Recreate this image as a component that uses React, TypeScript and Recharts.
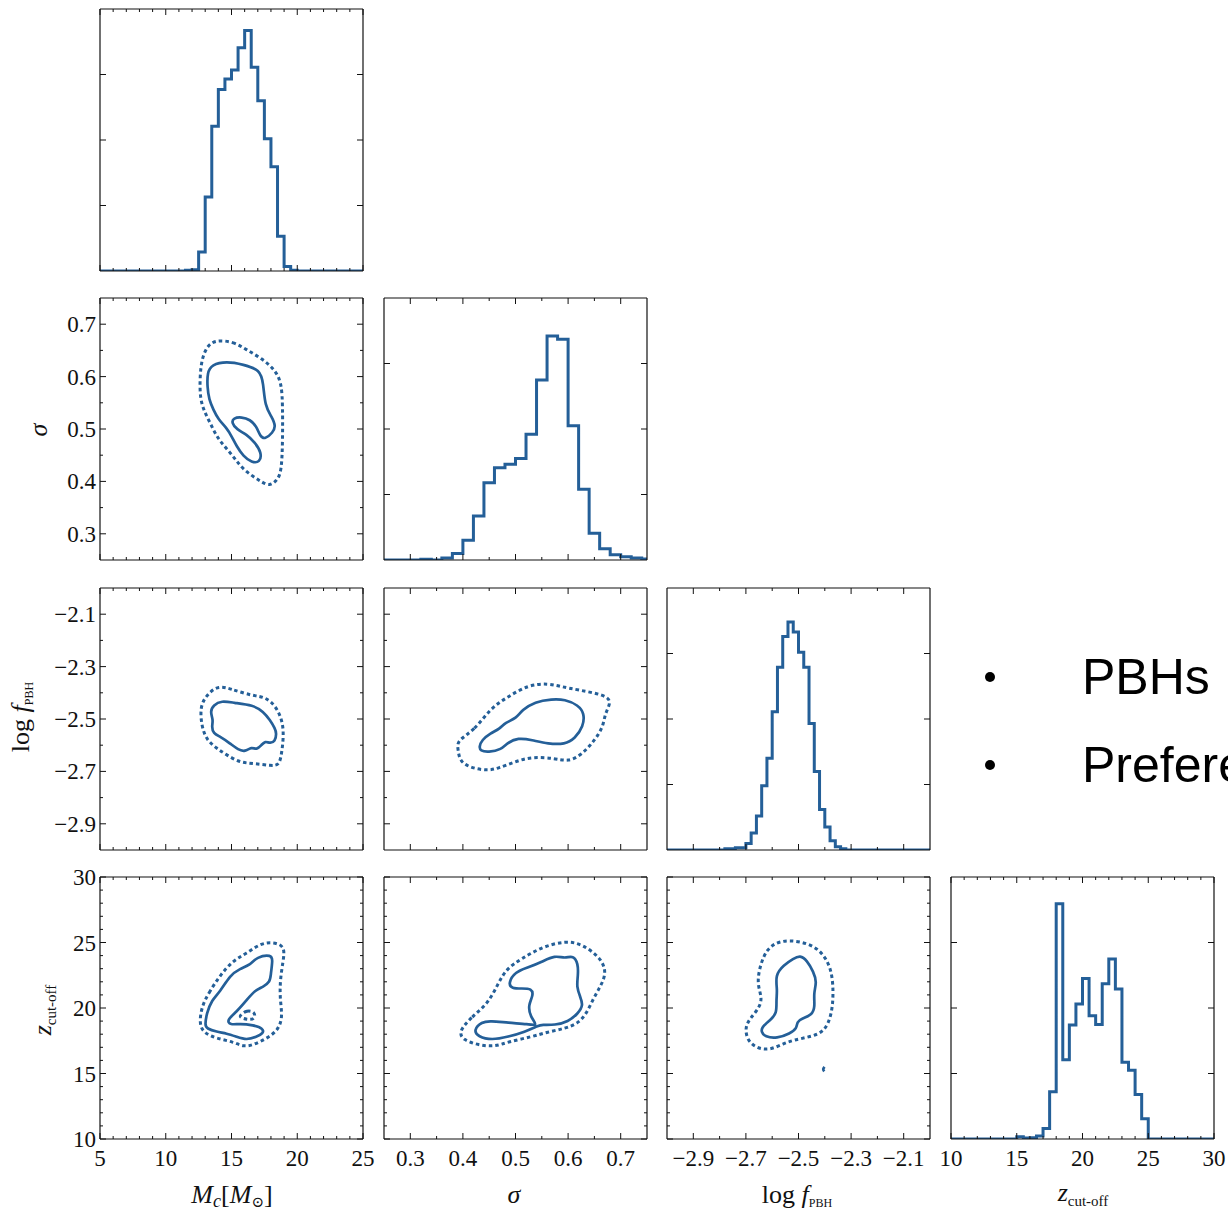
import React from "react";
import { ComposedChart, Line, XAxis, YAxis } from "recharts";

// colours / fonts
const BLUE = "#245f98";
const INK = "#111";
const SERIF = "'Liberation Serif', 'DejaVu Serif', serif";
const SANS = "'Liberation Sans', Arial, sans-serif";

// panel layout
const PANEL_W = 263;
const PANEL_H = 262;
const colLeft = [100, 384, 667, 951];
const rowTop = [9, 298, 588, 877];

// axis ranges and ticks
const mcDomain: [number, number] = [5, 25];
const mcMajor = [5, 10, 15, 20, 25];
const mcMinor = [6, 7, 8, 9, 11, 12, 13, 14, 16, 17, 18, 19, 21, 22, 23, 24];

const sigmaDomain: [number, number] = [0.25, 0.75];
const sigmaMajor = [0.3, 0.4, 0.5, 0.6, 0.7];
const sigmaMinor = [0.35, 0.45, 0.55, 0.65];

const logfDomain: [number, number] = [-3, -2];
const logfMajor = [-2.9, -2.7, -2.5, -2.3, -2.1];
const logfMinor = [-2.8, -2.6, -2.4, -2.2];

const zDomain: [number, number] = [10, 30];
const zMajor = [10, 15, 20, 25, 30];
const zMinor = [11, 12, 13, 14, 16, 17, 18, 19, 21, 22, 23, 24, 26, 27, 28, 29];

const histDomain: [number, number] = [0, 4];
const histMajor = [1, 2, 3];

// 1D histograms: bin edges (last = right end) and bin heights
const mcHistEdges = [5, 11.5, 12, 12.5, 13, 13.5, 14, 14.5, 15, 15.5, 16, 16.5, 17, 17.5, 18, 18.5, 19, 19.5, 20, 25];
const mcHistHeights = [0, 0.01, 0.02, 0.29, 1.13, 2.21, 2.77, 2.93, 3.07, 3.41, 3.67, 3.11, 2.6, 2.02, 1.59, 0.53, 0.07, 0.01, 0];

const sigmaHistEdges = [0.25, 0.32, 0.34, 0.36, 0.38, 0.4, 0.42, 0.44, 0.46, 0.48, 0.5, 0.52, 0.54, 0.56, 0.58, 0.6, 0.62, 0.64, 0.66, 0.68, 0.7, 0.72, 0.74, 0.75];
const sigmaHistHeights = [0, 0.01, 0, 0.03, 0.1, 0.3, 0.67, 1.18, 1.41, 1.46, 1.55, 1.92, 2.75, 3.42, 3.37, 2.05, 1.08, 0.41, 0.17, 0.08, 0.05, 0.03, 0.015];

const logfHistEdges = [-3, -2.78, -2.74, -2.7, -2.68, -2.66, -2.64, -2.62, -2.6, -2.58, -2.56, -2.54, -2.52, -2.5, -2.48, -2.46, -2.44, -2.42, -2.4, -2.38, -2.36, -2.34, -2.32, -2];
const logfHistHeights = [0, 0.02, 0.035, 0.1, 0.26, 0.52, 0.98, 1.4, 2.11, 2.79, 3.26, 3.48, 3.33, 3.02, 2.79, 1.93, 1.2, 0.62, 0.35, 0.14, 0.05, 0.02, 0];

const zHistEdges = [10, 15, 15.5, 16, 16.5, 17, 17.5, 18, 18.5, 19, 19.5, 20, 20.5, 21, 21.5, 22, 22.5, 23, 23.5, 24, 24.5, 25, 30];
const zHistHeights = [0, 0.035, 0.015, 0.02, 0.045, 0.16, 0.72, 3.59, 1.21, 1.74, 2.06, 2.45, 1.88, 1.75, 2.37, 2.75, 2.29, 1.17, 1.05, 0.68, 0.31, 0];

// 2D contours (solid = inner level, dotted = outer level)
const mcSigmaOuter = [[13.75, 0.67], [15.14, 0.667], [16.15, 0.651], [17.29, 0.635], [18.31, 0.613], [18.81, 0.588], [18.89, 0.543], [18.89, 0.48], [18.81, 0.417], [18.43, 0.401], [17.88, 0.391], [17.29, 0.399], [16.66, 0.409], [15.9, 0.423], [15.39, 0.439], [14.89, 0.455], [14.33, 0.471], [13.87, 0.486], [13.37, 0.512], [12.86, 0.537], [12.6, 0.562], [12.6, 0.6], [12.73, 0.632], [13.11, 0.657]];
const mcSigmaInner = [[13.49, 0.623], [14.63, 0.629], [15.9, 0.623], [17.17, 0.613], [17.42, 0.588], [17.55, 0.543], [18.05, 0.524], [18.38, 0.505], [18.13, 0.493], [17.55, 0.48], [17.17, 0.486], [16.91, 0.505], [16.41, 0.518], [15.77, 0.523], [15.14, 0.521], [15.01, 0.512], [15.39, 0.499], [16.15, 0.49], [16.79, 0.474], [17.29, 0.455], [17.17, 0.436], [16.53, 0.436], [15.9, 0.448], [15.39, 0.467], [15.01, 0.486], [14.63, 0.502], [14.0, 0.518], [13.62, 0.537], [13.29, 0.556], [13.16, 0.581], [13.16, 0.607]];

const mcLogfOuter = [[14.0, -2.37], [15.14, -2.389], [16.66, -2.412], [17.55, -2.415], [18.43, -2.453], [18.94, -2.517], [18.94, -2.58], [18.81, -2.631], [18.64, -2.676], [18.05, -2.679], [16.66, -2.669], [15.65, -2.667], [14.63, -2.637], [13.87, -2.612], [13.11, -2.58], [12.73, -2.529], [12.6, -2.453], [13.11, -2.408]];
const mcLogfInner = [[13.62, -2.447], [14.25, -2.43], [15.14, -2.438], [16.66, -2.447], [17.42, -2.472], [17.93, -2.504], [18.31, -2.536], [18.43, -2.555], [18.31, -2.586], [17.93, -2.593], [17.55, -2.584], [17.29, -2.599], [16.91, -2.618], [16.53, -2.606], [16.03, -2.625], [15.52, -2.618], [14.89, -2.593], [14.13, -2.567], [13.62, -2.555], [13.49, -2.529], [13.62, -2.504], [13.37, -2.472]];

const sigmaLogfOuter = [[0.388, -2.583], [0.423, -2.542], [0.452, -2.459], [0.486, -2.415], [0.524, -2.37], [0.562, -2.364], [0.588, -2.377], [0.619, -2.389], [0.67, -2.408], [0.683, -2.434], [0.67, -2.478], [0.667, -2.529], [0.651, -2.58], [0.626, -2.637], [0.6, -2.663], [0.575, -2.65], [0.531, -2.644], [0.499, -2.663], [0.467, -2.688], [0.448, -2.697], [0.417, -2.688], [0.394, -2.663], [0.391, -2.618]];
const sigmaLogfInner = [[0.436, -2.58], [0.452, -2.555], [0.471, -2.536], [0.48, -2.514], [0.502, -2.497], [0.512, -2.466], [0.537, -2.434], [0.569, -2.424], [0.594, -2.425], [0.619, -2.447], [0.631, -2.478], [0.629, -2.529], [0.613, -2.574], [0.594, -2.597], [0.562, -2.595], [0.531, -2.58], [0.505, -2.571], [0.483, -2.593], [0.474, -2.616], [0.448, -2.627], [0.433, -2.621], [0.431, -2.606]];

const mcZOuter = [[12.73, 20.09], [13.24, 21.11], [14.13, 22.5], [15.14, 23.65], [16.15, 24.16], [17.17, 24.92], [18.18, 25.04], [19.07, 24.71], [18.94, 23.65], [18.69, 22.12], [18.69, 20.6], [18.89, 19.33], [18.56, 18.31], [17.67, 17.67], [16.66, 17.17], [15.9, 17.04], [15.14, 17.42], [13.87, 17.67], [12.86, 18.11], [12.55, 18.82]];
const mcZIsland = [[15.65, 19.45], [16.15, 19.83], [16.79, 19.71], [16.79, 19.12], [16.15, 19.12], [15.65, 19.28]];
const mcZInner = [[12.98, 18.69], [13.11, 19.58], [13.49, 20.6], [14.13, 21.23], [14.89, 22.5], [15.65, 23.01], [16.41, 23.27], [16.91, 23.9], [18.05, 24.08], [18.13, 23.65], [17.98, 22.5], [17.93, 22.0], [17.42, 21.61], [16.79, 21.36], [16.15, 20.6], [15.39, 19.71], [14.63, 19.07], [14.89, 18.69], [15.65, 18.82], [16.66, 18.69], [17.42, 18.44], [17.42, 18.06], [16.91, 17.8], [16.15, 17.55], [15.39, 17.8], [14.63, 18.06], [13.87, 18.18], [13.11, 18.44]];

const sigmaZOuter = [[0.391, 18.18], [0.417, 19.33], [0.448, 20.34], [0.467, 21.87], [0.483, 23.01], [0.512, 23.77], [0.55, 24.66], [0.594, 25.12], [0.626, 24.92], [0.664, 23.77], [0.673, 22.63], [0.661, 21.61], [0.648, 20.72], [0.635, 19.58], [0.619, 18.82], [0.594, 18.44], [0.562, 18.18], [0.531, 17.8], [0.486, 17.42], [0.461, 17.04], [0.429, 17.17], [0.401, 17.55]];
const sigmaZInner = [[0.42, 18.31], [0.436, 18.95], [0.452, 19.02], [0.486, 18.87], [0.524, 18.77], [0.543, 18.64], [0.528, 19.33], [0.524, 20.22], [0.534, 20.98], [0.531, 21.49], [0.512, 21.49], [0.493, 21.49], [0.486, 21.87], [0.499, 22.76], [0.524, 23.09], [0.55, 23.52], [0.575, 24.03], [0.594, 23.77], [0.61, 24.03], [0.619, 23.39], [0.619, 22.5], [0.616, 21.61], [0.623, 20.85], [0.629, 20.22], [0.619, 19.58], [0.6, 18.95], [0.575, 18.69], [0.55, 18.74], [0.543, 18.64], [0.518, 18.18], [0.486, 17.8], [0.455, 17.55], [0.429, 17.8]];

const logfZOuter = [[-2.703, 18.56], [-2.684, 19.2], [-2.646, 20.09], [-2.639, 20.85], [-2.658, 21.87], [-2.646, 23.27], [-2.62, 24.54], [-2.57, 25.17], [-2.494, 25.12], [-2.418, 24.54], [-2.373, 23.01], [-2.367, 21.11], [-2.373, 19.58], [-2.399, 18.18], [-2.456, 17.8], [-2.519, 17.55], [-2.557, 17.29], [-2.608, 16.79], [-2.658, 16.91], [-2.696, 17.55]];
const logfZInner = [[-2.639, 18.56], [-2.608, 19.07], [-2.582, 19.58], [-2.585, 20.6], [-2.58, 21.36], [-2.589, 22.5], [-2.557, 23.27], [-2.519, 23.77], [-2.494, 24.03], [-2.468, 23.65], [-2.443, 22.76], [-2.43, 21.99], [-2.443, 21.11], [-2.437, 20.09], [-2.449, 19.45], [-2.487, 19.2], [-2.506, 18.95], [-2.506, 18.44], [-2.532, 18.06], [-2.582, 17.67], [-2.627, 17.8], [-2.642, 18.18]];
const logfZSpeck = [[-2.401, 15.51], [-2.406, 15.33], [-2.402, 15.16]];

type Pt = { x: number; y: number };
type Param = { domain: [number, number]; major: number[]; minor: number[] };
type Series = { data: Pt[]; kind: "hist" | "solid" | "dotted" | "open" };

const params: Record<string, Param> = {
  mc: { domain: mcDomain, major: mcMajor, minor: mcMinor },
  sigma: { domain: sigmaDomain, major: sigmaMajor, minor: sigmaMinor },
  logf: { domain: logfDomain, major: logfMajor, minor: logfMinor },
  z: { domain: zDomain, major: zMajor, minor: zMinor },
  hist: { domain: histDomain, major: histMajor, minor: [] },
};

const stepData = (edges: number[], heights: number[]): Pt[] =>
  edges.map((e, i) => ({ x: e, y: i < heights.length ? heights[i] : heights[heights.length - 1] }));
const pts = (a: number[][]): Pt[] => a.map(([x, y]) => ({ x, y }));
const fmt = (v: number) => String(v).replace("-", "\u2212");

// tick drawn by hand so it points into the frame; majors longer, labels optional
function makeTick(side: string, major: number[], labels: boolean) {
  return (props: any) => {
    const { x, y, payload } = props;
    const v = payload.value;
    const isMajor = major.some((m) => Math.abs(m - v) < 1e-9);
    const len = isMajor ? 6 : 3;
    let l = null;
    let t = null;
    if (side === "bottom") {
      l = <line x1={x} y1={y} x2={x} y2={y - len} />;
      if (labels && isMajor)
        t = <text x={x} y={y + 27} textAnchor="middle">{fmt(v)}</text>;
    } else if (side === "top") {
      l = <line x1={x} y1={y} x2={x} y2={y + len} />;
    } else if (side === "left") {
      l = <line x1={x} y1={y} x2={x + len} y2={y} />;
      if (labels && isMajor)
        t = <text x={x - 4} y={y + 8} textAnchor="end">{fmt(v)}</text>;
    } else {
      l = <line x1={x} y1={y} x2={x - len} y2={y} />;
    }
    return (
      <g stroke={INK} strokeWidth={1} fill={INK} fontFamily={SERIF} fontSize={23}>
        {l}
        {t && <g stroke="none">{t}</g>}
      </g>
    );
  };
}

function Panel({ row, col, xp, yp, series, xLabels, yLabels }: {
  row: number; col: number; xp: Param; yp: Param; series: Series[]; xLabels: boolean; yLabels: boolean;
}) {
  // outer space round the plot (room for tick labels); each axis takes 1px of it
  const m = { top: 16, right: 16, bottom: xLabels ? 40 : 6, left: yLabels ? 100 : 16 };
  const margin = { top: m.top - 1, right: m.right - 1, bottom: m.bottom - 1, left: m.left - 1 };
  const axisLine = { stroke: INK, strokeWidth: 1.2 };
  const xt = [...xp.major, ...xp.minor];
  const yt = [...yp.major, ...yp.minor];
  return (
    <div style={{ position: "absolute", left: colLeft[col] - m.left, top: rowTop[row] - m.top }}>
      <ComposedChart width={PANEL_W + m.left + m.right} height={PANEL_H + m.top + m.bottom} margin={margin}>
        <XAxis xAxisId="b" type="number" dataKey="x" domain={xp.domain} allowDataOverflow ticks={xt}
          interval={0} height={1} tickSize={0} tickMargin={0} tickLine={false} axisLine={axisLine}
          tick={makeTick("bottom", xp.major, xLabels)} />
        <XAxis xAxisId="t" orientation="top" type="number" dataKey="x" domain={xp.domain} allowDataOverflow ticks={xt}
          interval={0} height={1} tickSize={0} tickMargin={0} tickLine={false} axisLine={axisLine}
          tick={makeTick("top", xp.major, false)} />
        <YAxis yAxisId="l" type="number" domain={yp.domain} allowDataOverflow ticks={yt}
          interval={0} width={1} tickSize={0} tickMargin={0} tickLine={false} axisLine={axisLine}
          tick={makeTick("left", yp.major, yLabels)} />
        <YAxis yAxisId="r" orientation="right" type="number" domain={yp.domain} allowDataOverflow ticks={yt}
          interval={0} width={1} tickSize={0} tickMargin={0} tickLine={false} axisLine={axisLine}
          tick={makeTick("right", yp.major, false)} />
        {series.map((s, i) => (
          <Line key={i} xAxisId="b" yAxisId="l" data={s.data} dataKey="y"
            type={s.kind === "hist" ? "stepAfter" : s.kind === "open" ? "natural" : "basisClosed"}
            stroke={BLUE} strokeWidth={s.kind === "hist" ? 3 : s.kind === "dotted" ? 3 : 2.7}
            strokeDasharray={s.kind === "dotted" ? "3.5 3" : undefined}
            strokeLinejoin="miter" dot={false} activeDot={false} isAnimationActive={false} />
        ))}
      </ComposedChart>
    </div>
  );
}

const panels = [
  { row: 0, col: 0, x: "mc", y: "hist", series: [{ data: stepData(mcHistEdges, mcHistHeights), kind: "hist" }] },
  { row: 1, col: 0, x: "mc", y: "sigma", series: [{ data: pts(mcSigmaOuter), kind: "dotted" }, { data: pts(mcSigmaInner), kind: "solid" }] },
  { row: 1, col: 1, x: "sigma", y: "hist", series: [{ data: stepData(sigmaHistEdges, sigmaHistHeights), kind: "hist" }] },
  { row: 2, col: 0, x: "mc", y: "logf", series: [{ data: pts(mcLogfOuter), kind: "dotted" }, { data: pts(mcLogfInner), kind: "solid" }] },
  { row: 2, col: 1, x: "sigma", y: "logf", series: [{ data: pts(sigmaLogfOuter), kind: "dotted" }, { data: pts(sigmaLogfInner), kind: "solid" }] },
  { row: 2, col: 2, x: "logf", y: "hist", series: [{ data: stepData(logfHistEdges, logfHistHeights), kind: "hist" }] },
  { row: 3, col: 0, x: "mc", y: "z", series: [{ data: pts(mcZOuter), kind: "dotted" }, { data: pts(mcZIsland), kind: "dotted" }, { data: pts(mcZInner), kind: "solid" }] },
  { row: 3, col: 1, x: "sigma", y: "z", series: [{ data: pts(sigmaZOuter), kind: "dotted" }, { data: pts(sigmaZInner), kind: "solid" }] },
  { row: 3, col: 2, x: "logf", y: "z", series: [{ data: pts(logfZOuter), kind: "dotted" }, { data: pts(logfZInner), kind: "solid" }, { data: pts(logfZSpeck), kind: "open" }] },
  { row: 3, col: 3, x: "z", y: "hist", series: [{ data: stepData(zHistEdges, zHistHeights), kind: "hist" }] },
];

export default function App() {
  return (
    <div style={{ position: "fixed", left: 0, top: 0, width: 1228, height: 1213, overflow: "hidden", background: "#fff" }}>
      {panels.map((p, i) => (
        <Panel key={i} row={p.row} col={p.col} xp={params[p.x]} yp={params[p.y]}
          series={p.series as Series[]} xLabels={p.row === 3} yLabels={p.col === 0 && p.row > 0} />
      ))}
      <svg width={1228} height={1213} style={{ position: "absolute", left: 0, top: 0, pointerEvents: "none" }}
        fontFamily={SERIF} fontSize={26} fill={INK}>
        {/* x titles */}
        <text x={232} y={1203} textAnchor="middle">
          <tspan fontStyle="italic">M</tspan>
          <tspan fontStyle="italic" fontSize={18} dy={4}>c</tspan>
          <tspan dy={-4}>[</tspan>
          <tspan fontStyle="italic">M</tspan>
          <tspan fontSize={15} dy={4}>⊙</tspan>
          <tspan dy={-4}>]</tspan>
        </text>
        <text x={514} y={1203} textAnchor="middle" fontStyle="italic">σ</text>
        <text x={797} y={1203} textAnchor="middle">
          <tspan>log </tspan>
          <tspan fontStyle="italic">f</tspan>
          <tspan fontSize={12} dy={4}>PBH</tspan>
        </text>
        <text x={1083} y={1201} textAnchor="middle">
          <tspan fontStyle="italic">z</tspan>
          <tspan fontSize={15} dy={5}>cut-off</tspan>
        </text>
        {/* y titles */}
        <g transform="translate(47,430) rotate(-90)">
          <text x={0} y={0} textAnchor="middle" fontStyle="italic">σ</text>
        </g>
        <g transform="translate(29,717) rotate(-90)">
          <text x={0} y={0} textAnchor="middle">
            <tspan>log </tspan>
            <tspan fontStyle="italic">f</tspan>
            <tspan fontSize={12} dy={4}>PBH</tspan>
          </text>
        </g>
        <g transform="translate(51,1010) rotate(-90)">
          <text x={0} y={0} textAnchor="middle">
            <tspan fontStyle="italic">z</tspan>
            <tspan fontSize={15} dy={5}>cut-off</tspan>
          </text>
        </g>
        {/* legend */}
        <circle cx={990} cy={677} r={5} fill="#000" />
        <circle cx={990} cy={765} r={5} fill="#000" />
        <text x={1082} y={694} fontFamily={SANS} fontSize={50} fill="#000">PBHs</text>
        <text x={1082} y={782} fontFamily={SANS} fontSize={50} fill="#000">Preference</text>
      </svg>
    </div>
  );
}
